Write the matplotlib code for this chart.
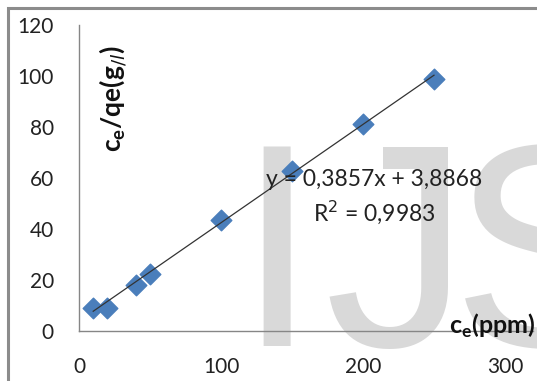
import matplotlib
matplotlib.use('agg')
import matplotlib.pyplot as plt
from matplotlib.patches import Rectangle
import numpy as np

# data
ce = [10, 20, 40, 50, 100, 150, 200, 250]
ce_qe = [9.2, 9.0, 18.0, 22.3, 43.5, 62.8, 81.3, 98.8]
x_ticks = [0, 100, 200, 300]
y_ticks = [0, 20, 40, 60, 80, 100, 120]
slope, intercept = 0.3857, 3.8868

plt.rcParams['font.family'] = ['Lato', 'DejaVu Sans']

fig = plt.figure(figsize=(5.37, 3.81), dpi=100)
W, H = 537, 381

# outer chart border (Excel style)
fig.patches.append(Rectangle((8 / W, -0.1), 1.2, (H - 8) / H + 0.1, transform=fig.transFigure,
                             fill=False, edgecolor='#8c8c8c', linewidth=2.2))

# watermark in a background axes, letters placed one by one
bg = fig.add_axes([0, 0, 1, 1], zorder=0)
bg.axis('off')
for letter, xl in [('I', 236), ('J', 324), ('S', 452)]:
    bg.text(xl / W, (H - 346) / H, letter, fontsize=208, color='#d9d9d9',
            ha='left', va='baseline', family='Liberation Sans')

ax = fig.add_axes([79 / W, (H - 331) / H, (505 - 79) / W, (331 - 25) / H], zorder=1)
ax.patch.set_alpha(0)
ax.set_xlim(0, 300)
ax.set_ylim(0, 120)
ax.set_xticks(x_ticks)
ax.set_yticks(y_ticks)
for s in ['top', 'right']:
    ax.spines[s].set_visible(False)
ax.spines['bottom'].set_bounds(0, 320)
ax.spines['bottom'].set_clip_on(False)
for s in ['left', 'bottom']:
    ax.spines[s].set_color('#868686')
    ax.spines[s].set_linewidth(1.0)
ax.tick_params(axis='both', length=0, labelsize=15, colors='#222222')
ax.tick_params(axis='x', pad=19)
ax.tick_params(axis='y', pad=18)

xf = np.array([ce[0], ce[-1]])
ax.plot(xf, slope * xf + intercept, color='#333333', linewidth=0.9, zorder=3)
ax.scatter(ce, ce_qe, marker='D', s=110, color='#4a7ebb', edgecolors='#4a7ebb', zorder=2)


def px(x, y):
    # figure pixel (from top-left) -> data coords
    return (x - 79) / 426 * 300, (331 - y) / 306 * 120


ax.text(*px(374, 180), 'y = 0,3857x + 3,8868',
        fontsize=16.5, ha='center', va='center', color='#222222')
ax.text(*px(374, 212), 'R$^2$ = 0,9983',
        fontsize=16.5, ha='center', va='center', color='#222222')

ax.text(*px(114, 99), r'c$_\mathregular{e}$/qe(g$_{/l}$)',
        fontsize=19, fontweight='bold', rotation=90, ha='center', va='center', color='#111111')
ax.text(*px(535, 326), r'c$_\mathregular{e}$(ppm)',
        fontsize=18, fontweight='bold', ha='right', va='center', color='#111111', clip_on=False)

fig.savefig('out.png', dpi=100)
